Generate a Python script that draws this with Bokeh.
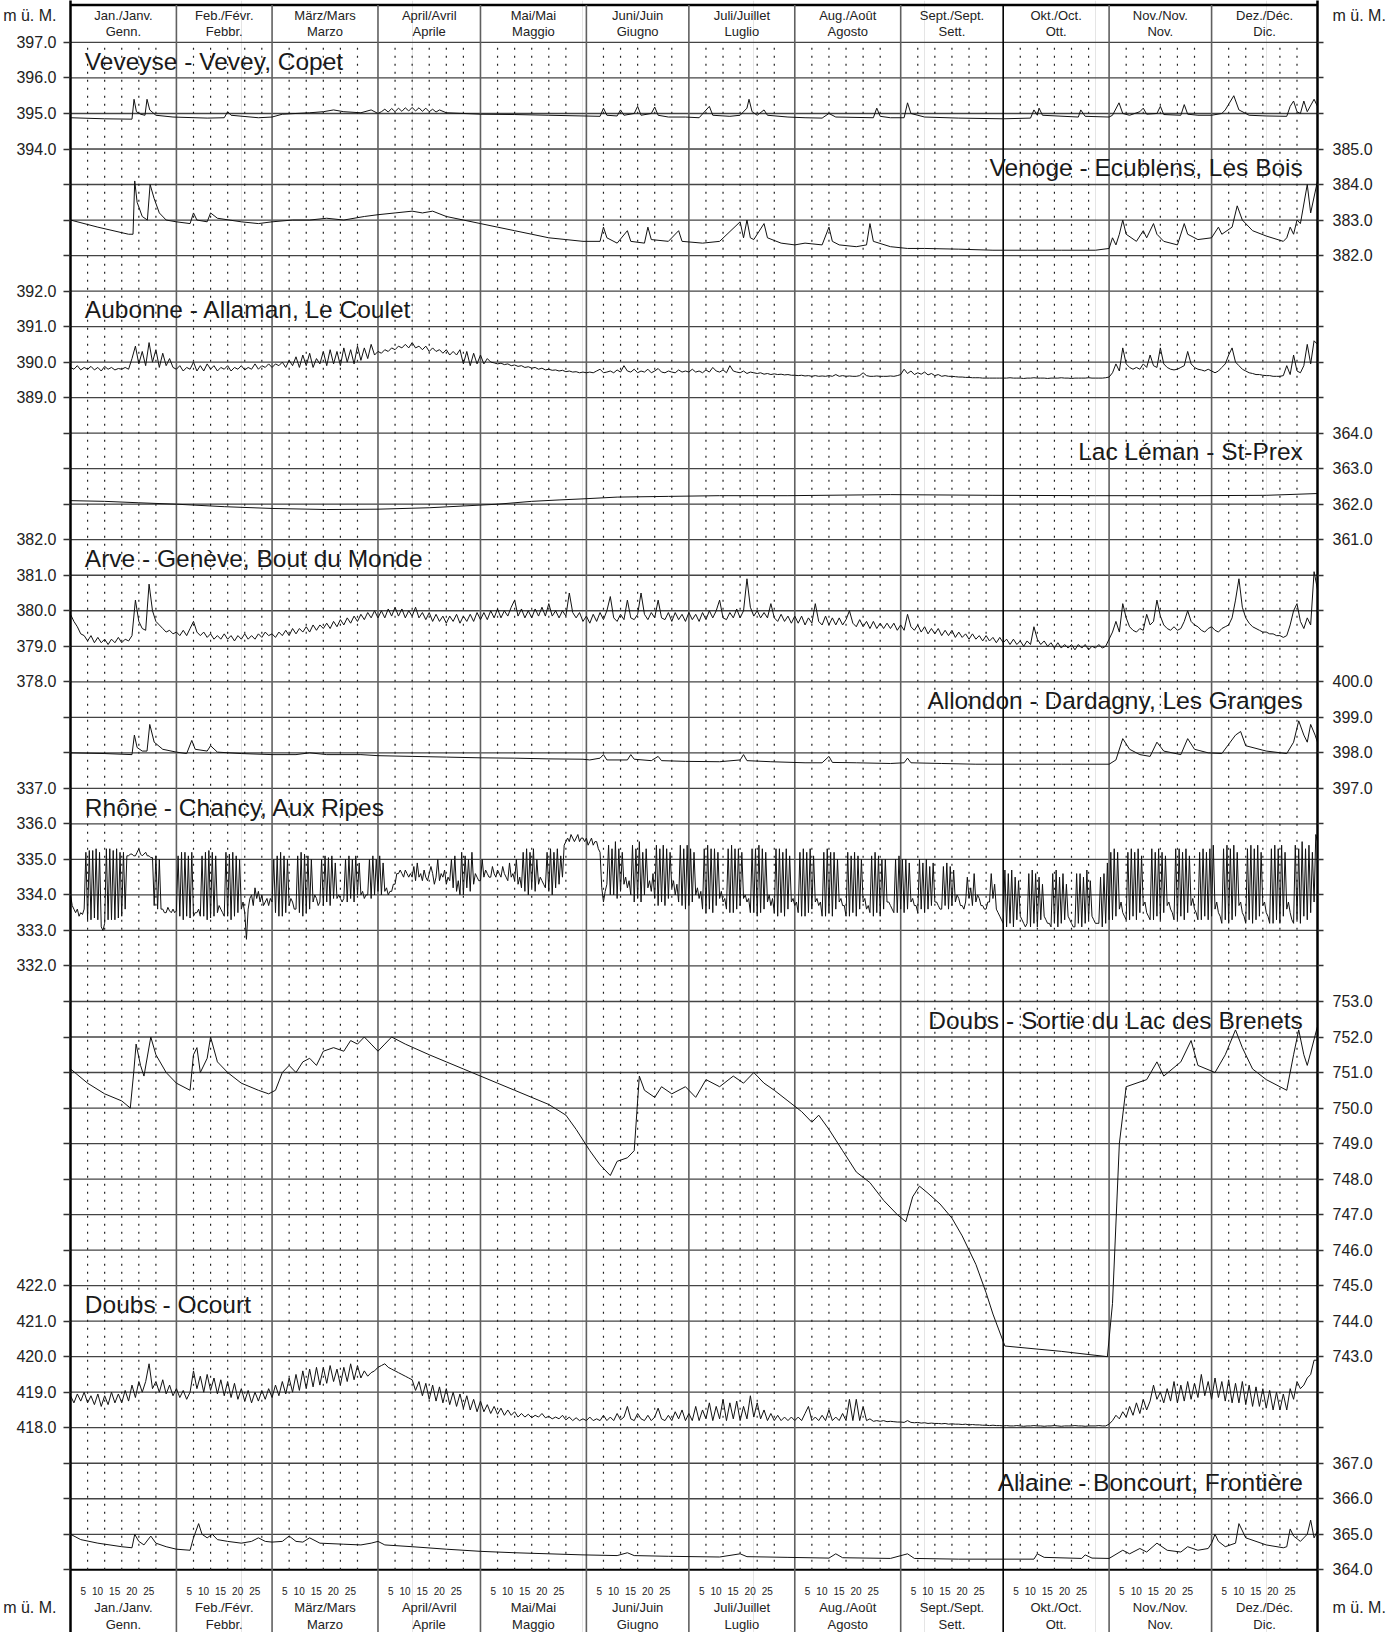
from bokeh.plotting import figure
from bokeh.models import Range1d, LinearAxis, FixedTicker
from bokeh.core.properties import value
from bokeh.embed import file_html
from bokeh.resources import INLINE

FONT = "Liberation Sans"

# ---------------- calendar ----------------
month_start = [0, 31, 59, 90, 120, 151, 181, 212, 243, 273, 304, 334, 365]
month_line1 = ["Jan./Janv.", "Feb./Févr.", "März/Mars", "April/Avril", "Mai/Mai", "Juni/Juin",
               "Juli/Juillet", "Aug./Août", "Sept./Sept.", "Okt./Oct.", "Nov./Nov.", "Dez./Déc."]
month_line2 = ["Genn.", "Febbr.", "Marzo", "Aprile", "Maggio", "Giugno",
               "Luglio", "Agosto", "Sett.", "Ott.", "Nov.", "Dic."]
day_marks = [5, 10, 15, 20, 25]
unit_label = "m ü. M."

# ---------------- axis tick labels (m ü. M.) ----------------
veveyse_ticks = [397.0, 396.0, 395.0, 394.0]
venoge_ticks = [385.0, 384.0, 383.0, 382.0]
aubonne_ticks = [392.0, 391.0, 390.0, 389.0]
leman_ticks = [364.0, 363.0, 362.0, 361.0]
arve_ticks = [382.0, 381.0, 380.0, 379.0, 378.0]
allondon_ticks = [400.0, 399.0, 398.0, 397.0]
rhone_ticks = [337.0, 336.0, 335.0, 334.0, 333.0, 332.0]
brenets_ticks = [753.0, 752.0, 751.0, 750.0, 749.0, 748.0, 747.0, 746.0, 745.0, 744.0, 743.0]
ocourt_ticks = [422.0, 421.0, 420.0, 419.0, 418.0]
allaine_ticks = [367.0, 366.0, 365.0, 364.0]

# ---------------- series: (day of year, water level m ü. M.) ----------------
veveyse = [(0,394.88),(10,394.85),(18,394.84),(18.6,395.4),(19.3,395.05),(20.5,394.98),(21.8,394.95),(22.4,395.4),(23.2,395.1),(25,394.95),
 (30,394.9),(40,394.87),(45,394.88),(46,395.05),(47,394.95),(55,394.88),(59,394.9),(62,394.98),(66,395.0),(70,395.02),
 (74,395.05),(77,395.1),(80,395.05),(85,395.02),(88,395.1),(90,395.0),(91,395.05),(92,395.12),(93,395.04),(94,395.14),
 (95,395.05),(96,395.15),(97,395.06),(98,395.16),(99,395.07),(100,395.17),(101,395.07),(102,395.16),(103,395.06),(104,395.15),
 (105,395.05),(106,395.12),(107,395.04),(108,395.1),(110,395.02),(115,395.0),(120,394.98),(130,394.97),(140,394.95),(150,394.93),
 (155,394.92),(156,395.15),(157,394.95),(160,394.93),(161,395.1),(162,394.95),(165,395.0),(166,395.2),(167,394.95),(170,395.0),
 (171,395.18),(172,394.95),(175,394.9),(180,394.9),(184,394.88),(187,395.2),(188,394.95),(193,394.92),(196,394.95),(198,395.15),
 (198.6,395.4),(199.5,395.05),(201,394.95),(203,395.1),(204,394.95),(210,394.9),(215,394.88),(220,394.87),(222,395.0),(224,394.9),
 (235,394.88),(236,395.15),(237,394.92),(240,394.88),(244,394.88),(245,395.3),(246,395.0),(250,394.9),(260,394.87),(273,394.85),
 (281,394.87),(282,395.1),(283,394.95),(283.5,395.15),(284.5,394.95),(295,394.9),(295.7,395.1),(297,394.92),(304,394.9),(305,394.95),
 (306.9,395.3),(308,395.0),(310,394.95),(313,395.05),(314,395.15),(315,394.98),(318,395.0),(319,395.2),(320,394.97),(325,394.95),
 (326,395.25),(327,394.98),(330,394.95),(334,394.95),(337,395.0),(338,395.1),(340.5,395.5),(342,395.1),(345,394.95),(350,394.93),
 (356,394.92),(357,395.2),(358,395.35),(359,395.05),(360,395.0),(361,395.35),(362,395.05),(364,395.4),(365,395.2)]

venoge = [(0,383.0),(8,382.8),(17,382.6),(18.3,382.6),(18.8,384.1),(19.5,383.5),(21,383.1),(22.5,383.0),(23.3,384.0),(24.5,383.6),
 (26,383.2),(28,383.0),(31,382.95),(35,382.9),(36,383.2),(37,383.0),(40,382.95),(41,383.2),(43,383.05),(50,382.95),
 (55,382.9),(59,382.95),(65,383.0),(70,383.0),(75,383.05),(80,383.0),(86,383.1),(90,383.15),(95,383.2),(100,383.25),
 (103,383.2),(106,383.25),(110,383.1),(115,383.0),(120,382.9),(125,382.8),(130,382.7),(135,382.6),(140,382.5),(145,382.45),
 (150,382.4),(155,382.4),(156,382.8),(157,382.5),(160,382.35),(163,382.7),(164,382.4),(168,382.35),(169,382.8),(170,382.45),
 (175,382.4),(178,382.7),(179,382.4),(185,382.35),(190,382.4),(196,382.95),(197,382.5),(198,383.0),(199,382.5),(200,382.45),
 (203,382.9),(204,382.5),(208,382.35),(212,382.3),(215,382.35),(220,382.3),(222,382.8),(223,382.4),(225,382.3),(230,382.25),
 (233,382.3),(234,382.9),(235,382.4),(240,382.25),(245,382.2),(250,382.2),(260,382.18),(270,382.15),(280,382.15),(290,382.15),
 (300,382.15),(304,382.2),(305,382.5),(306,382.3),(307,382.6),(308,383.0),(309,382.6),(312,382.4),(314,382.7),(315,382.5),
 (317,382.9),(318,382.6),(320,382.4),(324,382.3),(326,382.9),(327,382.6),(330,382.45),(334,382.5),(336,382.8),(337,382.6),
 (340,382.8),(341.5,383.4),(343,383.0),(346,382.7),(350,382.55),(355,382.4),(356,382.5),(357,382.8),(358,382.6),(359,383.0),
 (360,382.9),(362,384.0),(363,383.2),(365,384.1)]

# daily readings, starting 1 January
aubonne_step = 1.0
aubonne_val = [
 389.85,389.8,389.9,389.78,389.85,389.8,389.88,389.78,389.85,389.75,389.88,389.8,389.85,389.78,389.82,389.8,389.85,389.8,390.1,390.45,389.95,390.3,389.9,390.55,390.0,390.35,389.85,390.25,389.9,390.1,389.85,
 389.8,389.9,389.75,389.85,389.8,390.0,389.75,389.9,389.75,389.95,389.8,389.9,389.75,389.85,389.8,389.9,389.75,389.85,389.8,389.9,389.78,389.85,389.8,389.95,389.8,389.9,389.85,389.95,
 389.85,389.95,389.9,390.0,389.85,390.05,389.9,390.15,389.85,390.2,389.9,390.25,389.85,390.1,389.95,390.3,389.9,390.35,389.95,390.3,389.9,390.4,390.0,390.35,389.95,390.45,390.05,390.4,390.1,390.5,390.2,
 390.3,390.25,390.35,390.3,390.4,390.35,390.45,390.4,390.5,390.4,390.55,390.4,390.45,390.35,390.45,390.3,390.4,390.3,390.35,390.25,390.35,390.2,390.3,390.2,390.35,389.95,390.3,389.9,390.25,389.95,
 390.2,389.95,390.1,390.0,389.98,389.95,389.97,389.93,389.95,389.9,389.92,389.88,389.9,389.85,389.87,389.83,389.85,389.8,389.83,389.78,389.8,389.77,389.78,389.75,389.77,389.73,389.75,389.72,389.73,389.7,389.72,
 389.7,389.72,389.7,389.75,389.8,389.7,389.72,389.75,389.7,389.78,389.72,389.9,389.75,389.72,389.8,389.7,389.75,389.72,389.8,389.7,389.75,389.82,389.72,389.7,389.75,389.72,389.7,389.78,389.72,389.75,
 389.72,389.8,389.72,389.75,389.7,389.78,389.72,389.85,389.75,389.72,389.78,389.7,389.9,389.75,389.72,389.7,389.75,389.68,389.72,389.7,389.68,389.7,389.66,389.68,389.65,389.67,389.65,389.66,389.64,389.65,389.63,
 389.63,389.62,389.63,389.61,389.62,389.6,389.62,389.6,389.61,389.6,389.62,389.6,389.65,389.6,389.62,389.6,389.61,389.6,389.6,389.62,389.7,389.62,389.6,389.6,389.61,389.6,389.6,389.6,389.61,389.6,389.62,
 389.65,389.8,389.68,389.75,389.65,389.7,389.66,389.72,389.64,389.68,389.62,389.65,389.6,389.62,389.6,389.6,389.59,389.58,389.58,389.57,389.57,389.56,389.56,389.56,389.55,389.55,389.55,389.55,389.55,389.55,
 389.55,389.55,389.56,389.55,389.55,389.55,389.54,389.55,389.55,389.56,389.55,389.55,389.55,389.54,389.55,389.55,389.55,389.56,389.55,389.55,389.54,389.55,389.55,389.55,389.55,389.56,389.55,389.55,389.55,389.55,389.56,
 389.58,389.7,389.95,389.75,390.4,389.95,389.85,389.8,389.85,389.8,389.95,389.85,390.2,389.9,389.85,390.4,389.95,389.85,389.8,389.78,389.8,389.85,389.9,390.3,389.95,389.85,389.8,389.78,389.75,389.8,
 389.75,389.7,389.75,389.85,389.95,390.2,390.4,390.0,389.9,389.8,389.75,389.7,389.68,389.65,389.65,389.63,389.62,389.62,389.6,389.6,389.6,389.62,389.9,389.65,390.2,389.75,389.7,389.9,390.5,389.95,390.6,390.5]

leman = [(0,362.1),(10,362.08),(20,362.04),(31,362.0),(45,361.93),(59,361.88),(75,361.85),(90,361.86),(105,361.9),(115,361.95),
 (125,362.0),(135,362.08),(143,362.12),(150,362.15),(160,362.2),(175,362.22),(190,362.24),(210,362.24),(240,362.27),(270,362.25),
 (300,362.24),(330,362.24),(350,362.25),(365,362.3)]

# daily readings, starting 1 January
arve_step = 1.0
arve_val = [
 379.9,379.7,379.55,379.35,379.3,379.15,379.3,379.1,379.25,379.1,379.2,379.05,379.2,379.1,379.25,379.1,379.2,379.15,379.3,380.3,379.7,379.5,379.45,380.75,380.0,379.7,379.6,379.5,379.4,379.45,379.35,
 379.4,379.3,379.45,379.3,379.5,379.7,379.4,379.3,379.4,379.25,379.35,379.2,379.3,379.2,379.35,379.2,379.3,379.15,379.3,379.2,379.35,379.2,379.3,379.2,379.35,379.25,379.4,379.3,
 379.35,379.25,379.4,379.3,379.45,379.3,379.5,379.35,379.5,379.4,379.55,379.4,379.6,379.45,379.6,379.5,379.65,379.5,379.7,379.55,379.75,379.6,379.8,379.65,379.85,379.7,379.9,379.75,379.95,379.8,380.0,
 379.8,380.0,379.8,380.05,379.85,380.1,379.85,380.05,379.8,380.0,379.85,380.1,379.8,379.95,379.75,379.95,379.7,379.9,379.7,379.85,379.65,379.85,379.7,379.9,379.65,379.85,379.7,379.9,379.7,379.95,
 379.75,379.95,379.75,380.0,379.8,380.05,379.8,380.0,379.85,380.1,380.3,379.85,380.05,379.8,380.0,379.8,380.05,379.85,380.1,379.85,380.2,379.85,380.0,379.8,380.0,379.85,380.5,379.95,379.8,379.95,379.7,
 379.85,379.65,379.9,379.7,379.95,379.75,380.0,380.4,379.8,379.7,379.9,379.75,380.3,379.8,379.75,379.9,380.5,379.9,379.75,379.95,379.8,380.3,379.8,379.75,379.95,379.7,379.95,379.75,379.9,379.7,
 379.95,379.75,379.9,379.7,379.95,379.75,380.0,379.8,380.0,380.3,379.8,379.75,379.95,379.8,380.05,379.8,380.0,380.9,380.1,379.85,380.0,379.8,379.95,379.8,380.2,379.8,379.7,379.9,379.7,379.85,379.65,
 379.85,379.65,379.85,379.6,379.8,379.65,380.2,379.7,379.6,379.85,379.6,379.8,379.6,379.8,379.6,379.75,380.0,379.65,379.55,379.75,379.55,379.7,379.5,379.7,379.5,379.65,379.5,379.65,379.5,379.65,379.45,
 379.6,379.45,379.9,379.55,379.45,379.6,379.4,379.55,379.35,379.5,379.35,379.5,379.3,379.45,379.3,379.45,379.25,379.4,379.25,379.35,379.2,379.35,379.2,379.3,379.15,379.3,379.15,379.25,379.1,379.25,
 379.1,379.2,379.05,379.2,379.05,379.15,379.0,379.15,379.05,379.55,379.2,379.05,379.15,379.0,379.1,378.95,379.1,378.95,379.05,378.95,379.05,378.9,379.05,378.95,379.05,378.9,379.0,378.95,379.05,378.95,379.0,
 379.2,379.4,379.7,379.4,380.2,379.8,379.55,379.45,379.4,379.5,379.45,379.9,379.6,379.7,380.3,379.85,379.6,379.5,379.45,379.55,379.45,379.5,379.7,380.0,379.7,379.6,379.55,379.45,379.4,379.5,
 379.55,379.45,379.4,379.5,379.55,379.6,379.8,380.3,380.9,380.1,379.8,379.65,379.55,379.5,379.45,379.4,379.4,379.35,379.35,379.3,379.3,379.25,379.3,379.6,380.0,380.2,379.7,379.5,379.8,379.6,381.1,380.6]

allondon = [(0,398.0),(10,397.98),(18,397.95),(18.7,398.5),(19.5,398.15),(21,398.05),(22.4,398.05),(23.2,398.8),(24.5,398.3),(27,398.1),
 (31,398.02),(34,397.98),(35.5,398.35),(36.5,398.1),(40,398.05),(41,398.2),(43,398.02),(50,397.98),(59,397.95),(66,397.95),
 (70,398.0),(75,397.95),(85,397.95),(90,397.92),(100,397.9),(110,397.88),(120,397.86),(130,397.85),(140,397.83),(150,397.82),
 (152,397.8),(155,397.85),(156,397.95),(157,397.8),(163,397.8),(164,397.95),(165,397.82),(170,397.78),(172,397.9),(173,397.78),
 (180,397.76),(190,397.75),(196,397.8),(197,397.95),(198,397.78),(205,397.75),(215,397.72),(220,397.72),(222,397.9),(223,397.73),
 (230,397.72),(240,397.7),(244,397.72),(245,397.85),(246,397.72),(255,397.7),(265,397.68),(273,397.68),(290,397.68),(304,397.68),
 (306,397.8),(308,398.4),(310,398.1),(313,397.95),(316,397.9),(318,398.3),(320,398.05),(325,397.95),(327,398.4),(329,398.1),
 (333,398.0),(337,397.98),(341,398.5),(342.5,398.6),(344,398.2),(350,398.05),(356,397.98),(358,398.3),(359.5,398.9),(361,398.5),
 (362,398.3),(363,398.8),(364.3,398.5),(365,398.3)]

# Rhône - Chancy: one reading every half day, starting 1 January
rhone_step = 0.5
rhone_val = [
 334.0,333.7, 333.6,333.5, 333.6,333.4, 333.5,333.45, 333.6,335.2, 333.3,335.25, 333.3,335.25, 333.35,335.3, 333.3,335.2, 333.1,333.0,
 333.2,335.3, 333.3,335.3, 333.3,335.25, 333.3,335.3, 333.35,335.2, 333.4,335.2, 333.6,335.1, 335.1,335.15, 335.15,335.1, 335.1,335.2,
 335.3,335.15, 335.1,335.15, 335.2,335.1, 335.1,335.05, 335.05,333.7, 335.1,333.6, 335.0,333.6, 333.6,333.5, 333.5,333.65, 333.55,333.5,
 333.6,333.5, 333.55,335.1, 333.4,335.2, 333.3,335.2, 333.4,335.1, 333.35,335.2, 333.4,333.5, 333.5,333.6, 333.4,335.1, 333.4,335.2,
 333.3,335.25, 333.35,335.2, 333.4,335.1, 333.5,333.7, 333.6,333.5, 333.4,335.2, 333.4,335.15, 333.3,335.2, 333.4,335.1, 333.5,335.0,
 333.6,333.8, 333.5,332.75, 333.6,333.9, 334.0,333.7, 334.2,333.9, 334.1,333.8, 334.0,333.7, 333.8,333.9, 333.7,333.9, 333.8,335.0,
 333.5,335.1, 333.4,335.2, 333.4,335.1, 333.5,335.0, 333.7,333.9, 333.8,333.6, 333.6,335.1, 333.5,335.2, 333.4,335.15, 333.5,335.1,
 333.6,335.0, 333.8,334.0, 333.9,333.7, 333.8,335.0, 333.7,335.1, 333.8,335.05, 333.7,335.1, 333.9,334.9, 333.9,334.0, 333.9,333.8,
 333.9,335.0, 333.8,335.1, 333.9,335.0, 333.8,335.1, 334.0,334.9, 334.0,334.1, 333.9,334.0, 334.0,335.0, 333.9,335.1, 334.0,335.0,
 334.1,335.1, 334.0,334.9, 334.1,334.2, 334.0,334.1, 334.1,334.3, 334.3,334.6, 334.6,334.7, 334.6,334.5, 334.7,334.6, 334.5,334.6,
 334.5,334.8, 334.4,334.9, 334.5,334.6, 334.4,334.7, 334.5,334.4, 334.6,334.8, 334.6,334.3, 334.5,335.0, 334.4,334.6, 334.5,334.7,
 334.3,334.5, 334.4,335.0, 334.2,335.1, 334.1,334.4, 334.0,335.2, 334.0,335.1, 334.2,335.0, 334.1,335.2, 334.3,334.6, 334.5,334.4,
 334.4,335.0, 334.5,334.7, 334.6,334.5, 334.5,334.8, 334.6,334.5, 334.7,334.6, 334.5,334.8, 334.6,334.5, 334.4,334.9, 334.5,334.6,
 334.4,335.0, 334.3,334.5, 334.2,335.2, 334.1,335.3, 334.0,335.2, 334.2,335.3, 334.1,335.0, 334.3,334.5, 334.4,334.3, 334.2,335.2,
 334.1,335.3, 334.0,335.2, 334.2,335.3, 334.3,335.1, 334.5,335.4, 335.5,335.6, 335.5,335.7, 335.6,335.5, 335.6,335.7, 335.5,335.6,
 335.6,335.5, 335.6,335.4, 335.5,335.6, 335.4,335.5, 335.5,335.3, 335.2,334.2, 333.8,334.1, 334.3,335.4, 334.0,335.3, 334.0,335.5,
 333.9,335.3, 334.1,335.2, 334.3,334.5, 334.2,334.4, 334.0,335.4, 333.8,335.3, 333.9,335.5, 333.8,335.2, 334.0,335.3, 334.2,334.4,
 334.1,334.6, 333.9,335.4, 333.7,335.3, 333.8,335.4, 333.7,335.3, 333.9,335.2, 334.2,334.4, 334.0,334.3, 333.8,335.4, 333.7,335.3,
 333.6,335.4, 333.7,335.3, 333.8,335.2, 334.0,334.2, 333.9,334.1, 333.6,335.3, 333.5,335.4, 333.6,335.3, 333.5,335.3, 333.7,335.2,
 333.9,334.1, 333.8,333.9, 333.6,335.3, 333.5,335.4, 333.5,335.3, 333.6,335.3, 333.7,335.2, 333.9,334.0, 333.8,333.9, 333.5,335.3,
 333.5,335.3, 333.4,335.4, 333.5,335.3, 333.6,335.2, 333.8,334.0, 333.7,333.9, 333.5,335.3, 333.4,335.3, 333.5,335.2, 333.4,335.3,
 333.6,335.1, 333.8,333.9, 333.7,333.8, 333.5,335.2, 333.4,335.3, 333.4,335.2, 333.5,335.3, 333.6,335.1, 333.8,333.9, 333.7,333.8,
 333.4,335.2, 333.4,335.3, 333.5,335.2, 333.4,335.2, 333.6,335.0, 333.8,333.9, 333.7,333.7, 333.4,335.2, 333.4,335.1, 333.5,335.2,
 333.4,335.1, 333.6,335.0, 333.8,333.9, 333.6,333.7, 333.5,335.1, 333.4,335.2, 333.5,335.1, 333.4,335.0, 333.6,335.0, 333.8,333.8,
 333.7,333.6, 333.5,335.0, 333.5,335.1, 333.6,335.0, 333.5,335.0, 333.6,334.9, 333.8,333.9, 333.7,333.7, 333.5,335.0, 333.6,334.9,
 333.5,335.0, 333.6,334.8, 333.7,334.9, 333.8,333.8, 333.7,333.6, 333.6,334.8, 333.7,334.9, 333.6,334.8, 333.7,334.7, 333.8,334.0,
 333.9,333.7, 333.7,333.6, 333.8,334.5, 333.9,334.2, 333.7,334.6, 333.8,334.0, 333.9,333.7, 333.7,333.6, 333.6,333.8, 333.8,334.6,
 333.9,334.3, 333.6,333.5, 333.4,333.3, 333.2,334.7, 333.1,334.6, 333.2,334.7, 333.1,334.5, 333.3,334.4, 333.4,333.3, 333.2,333.1,
 333.2,334.6, 333.1,334.7, 333.2,334.6, 333.1,334.5, 333.3,334.3, 333.4,333.3, 333.2,333.2, 333.1,334.6, 333.2,334.7, 333.1,334.5,
 333.2,334.6, 333.3,334.3, 333.4,333.3, 333.2,333.1, 333.1,334.6, 333.2,334.6, 333.1,334.5, 333.2,334.7, 333.3,334.4, 333.4,333.3,
 333.2,333.2, 333.2,334.5, 333.1,334.6, 333.2,334.9, 333.3,335.2, 333.3,335.3, 333.4,335.2, 333.6,333.8, 333.5,333.4, 333.3,335.2,
 333.3,335.3, 333.4,335.2, 333.3,335.3, 333.5,335.1, 333.7,333.8, 333.5,333.4, 333.3,335.3, 333.3,335.2, 333.4,335.3, 333.3,335.2,
 333.5,335.1, 333.7,333.8, 333.6,333.5, 333.3,335.3, 333.3,335.3, 333.4,335.2, 333.3,335.3, 333.5,335.1, 333.7,333.9, 333.6,333.5,
 333.3,335.2, 333.3,335.3, 333.4,335.2, 333.3,335.3, 333.4,335.4, 333.6,333.8, 333.5,333.4, 333.2,335.3, 333.3,335.4, 333.2,335.3,
 333.3,335.4, 333.4,335.2, 333.7,333.8, 333.5,333.4, 333.2,335.3, 333.3,335.4, 333.2,335.3, 333.3,335.4, 333.4,335.2, 333.7,333.8,
 333.5,333.4, 333.2,335.3, 333.2,335.4, 333.3,335.3, 333.2,335.4, 333.4,335.2, 333.6,333.8, 333.5,333.3, 333.2,335.4, 333.3,335.3,
 333.2,335.5, 333.4,335.3, 333.3,335.4, 333.5,335.2, 333.8,335.7, 335.5]

brenets = [(0,751.1),(5,750.7),(10,750.4),(15,750.2),(17.5,750.0),(18.5,751.0),(19.2,751.8),(20.5,751.2),(21.5,750.9),(23.5,752.0),
 (25,751.5),(28,751.0),(31,750.7),(35,750.5),(36,751.5),(37,751.7),(38,751.0),(40,751.4),(41,752.0),(43,751.3),
 (46,751.0),(50,750.7),(55,750.5),(58,750.4),(60,750.5),(62,751.0),(64,751.2),(66,751.0),(68,751.3),(70,751.4),
 (72,751.2),(74,751.6),(77,751.7),(80,751.6),(82,751.9),(84,751.8),(86,752.0),(88,751.8),(90,751.6),(92,751.8),
 (94,752.0),(98,751.8),(105,751.5),(110,751.3),(115,751.1),(120,750.9),(125,750.7),(130,750.5),(135,750.3),(140,750.1),
 (145,749.8),(148,749.4),(152,748.8),(155,748.4),(158,748.1),(160,748.5),(163,748.6),(165,748.8),(166.5,750.9),(168,750.5),
 (171,750.3),(173,750.6),(176,750.4),(180,750.6),(183,750.3),(186,750.8),(190,750.6),(194,750.9),(197,750.7),(200,751.0),
 (203,750.7),(206,750.5),(210,750.2),(214,749.9),(217,749.6),(219,749.8),(222,749.4),(226,748.8),(230,748.2),(234,747.9),
 (238,747.4),(242,747.0),(244.5,746.8),(246.5,747.5),(248.5,747.8),(251,747.6),(254.5,747.3),(258,746.9),(261,746.4),(265,745.6),
 (268,744.8),(270,744.2),(273.5,743.3),(290,743.15),(303.5,743.0),(305,744.5),(307,749.0),(309,750.6),(315,750.8),(318,751.3),
 (320,750.9),(325,751.3),(328,751.9),(330,751.2),(335,751.0),(338,751.5),(341,752.2),(343,751.7),(346,751.1),(350,750.8),
 (354,750.6),(356,750.5),(358,751.5),(359.5,752.2),(361,751.5),(362,751.2),(365,752.3)]

# daily readings, starting 1 January
ocourt_step = 1.0
ocourt_val = [
 418.9,418.7,418.95,418.75,419.0,418.7,418.9,418.65,418.95,418.6,418.9,418.65,419.0,418.7,418.95,418.7,419.05,418.75,419.2,418.85,419.3,419.0,419.3,419.8,419.1,419.3,419.0,419.35,418.95,419.2,418.9,
 419.1,418.85,419.05,418.8,419.0,419.6,419.1,419.45,419.0,419.5,419.05,419.4,418.95,419.35,418.9,419.3,418.85,419.25,418.8,419.1,418.75,419.05,418.7,419.0,418.75,419.05,418.8,419.1,
 418.85,419.2,418.9,419.3,418.95,419.4,419.0,419.5,419.05,419.6,419.1,419.65,419.15,419.7,419.2,419.7,419.25,419.75,419.3,419.65,419.2,419.7,419.3,419.8,419.35,419.75,419.4,419.6,419.45,419.55,419.6,
 419.7,419.75,419.8,419.7,419.65,419.6,419.55,419.5,419.45,419.4,419.35,419.05,419.3,418.9,419.25,418.8,419.2,418.75,419.15,418.7,419.1,418.65,419.0,418.6,418.95,418.55,418.9,418.5,418.8,418.45,
 418.75,418.45,418.65,418.4,418.6,418.38,418.55,418.35,418.5,418.35,418.45,418.3,418.4,418.3,418.38,418.28,418.35,418.3,418.4,418.28,418.32,418.25,418.3,418.25,418.35,418.22,418.3,418.2,418.28,418.2,418.25,
 418.2,418.3,418.2,418.25,418.2,418.35,418.2,418.3,418.2,418.4,418.22,418.3,418.6,418.25,418.2,418.4,418.25,418.2,418.35,418.2,418.3,418.55,418.25,418.2,418.35,418.2,418.45,418.25,418.5,418.2,
 418.4,418.2,418.6,418.2,418.5,418.25,418.7,418.2,418.6,418.25,418.8,418.2,418.7,418.25,418.75,418.2,418.6,418.25,418.9,418.3,418.7,418.25,418.5,418.2,418.4,418.2,418.35,418.2,418.3,418.2,418.3,
 418.2,418.3,418.2,418.4,418.6,418.2,418.3,418.2,418.35,418.2,418.5,418.2,418.3,418.2,418.4,418.2,418.8,418.2,418.8,418.2,418.6,418.2,418.25,418.18,418.2,418.18,418.2,418.17,418.18,418.17,418.16,
 418.16,418.15,418.2,418.15,418.14,418.15,418.13,418.14,418.12,418.13,418.12,418.12,418.11,418.12,418.1,418.11,418.1,418.1,418.09,418.1,418.08,418.09,418.08,418.08,418.07,418.07,418.06,418.07,418.06,418.06,
 418.05,418.06,418.05,418.05,418.06,418.05,418.04,418.05,418.05,418.06,418.05,418.05,418.04,418.05,418.05,418.06,418.05,418.04,418.05,418.05,418.05,418.06,418.05,418.05,418.04,418.05,418.05,418.05,418.06,418.05,418.05,
 418.1,418.2,418.35,418.25,418.45,418.3,418.6,418.35,418.7,418.4,418.8,418.5,418.75,419.2,418.8,419.0,418.7,419.1,418.75,419.3,418.7,419.2,418.75,419.3,418.8,419.25,418.85,419.5,418.9,419.3,
 418.8,419.4,418.85,419.3,418.75,419.35,418.7,419.25,418.7,419.3,418.65,419.2,418.6,419.15,418.6,419.1,418.55,419.05,418.5,419.0,418.5,418.95,418.5,419.1,418.8,419.3,419.1,419.2,419.4,419.5,419.9,419.9]

allaine = [(0,365.0),(3,364.85),(8,364.75),(15,364.65),(18,364.62),(18.8,365.0),(20,364.8),(21.5,364.7),(23.5,364.95),(25,364.75),
 (28,364.65),(31,364.58),(35,364.55),(36,364.9),(37.5,365.3),(38.5,365.0),(40,364.9),(41.5,365.0),(43,364.85),(46,364.8),
 (50,364.75),(53,364.8),(55,364.9),(57,364.8),(59,364.78),(62,364.8),(64,364.95),(66,364.8),(68,364.78),(70,364.9),
 (73,364.75),(80,364.72),(85,364.7),(88,364.75),(90,364.8),(92,364.7),(100,364.65),(110,364.58),(120,364.52),(130,364.48),
 (140,364.45),(150,364.42),(160,364.4),(163,364.48),(165,364.4),(175,364.38),(190,364.36),(196,364.45),(198,364.37),(210,364.35),
 (222,364.33),(224,364.45),(226,364.34),(240,364.32),(245,364.45),(247,364.32),(260,364.3),(273,364.3),(282,364.3),(283,364.45),
 (285,364.35),(296,364.32),(297,364.42),(299,364.33),(304,364.32),(308,364.55),(310,364.45),(313,364.6),(315,364.5),(318,364.75),
 (321,364.55),(325,364.5),(327,364.65),(330,364.55),(333,364.6),(334,364.75),(335,365.0),(336,364.8),(338,364.65),(341,364.75),
 (342,365.3),(344,364.9),(350,364.7),(355,364.62),(356,364.65),(357,365.15),(358,364.95),(360,364.8),(362,365.0),(363,365.4),
 (364,364.9),(365,365.1)]


def regular(vals, step):
    return [(i * step, v) for i, v in enumerate(vals)]


# ---------------- layout of the stacked panels ----------------
N_ROWS = 43                      # grid rows between top and bottom line
ROW_PX = 35.52                   # height of one grid row in px
BOTTOM_PX = 1569.3               # page y of the bottom grid line
FIG_W, FIG_H = 1390, 1632
Y1 = BOTTOM_PX / ROW_PX
Y0 = (BOTTOM_PX - FIG_H) / ROW_PX

stations = [
    dict(key="veveyse", title="Veveyse - Vevey, Copet", pts=veveyse, ticks=veveyse_ticks, side="left", top_row=43),
    dict(key="venoge", title="Venoge - Ecublens, Les Bois", pts=venoge, ticks=venoge_ticks, side="right", top_row=40),
    dict(key="aubonne", title="Aubonne - Allaman, Le Coulet", pts=regular(aubonne_val, aubonne_step),
         ticks=aubonne_ticks, side="left", top_row=36),
    dict(key="leman", title="Lac Léman - St-Prex", pts=leman, ticks=leman_ticks, side="right", top_row=32),
    dict(key="arve", title="Arve - Genève, Bout du Monde", pts=regular(arve_val, arve_step),
         ticks=arve_ticks, side="left", top_row=29),
    dict(key="allondon", title="Allondon - Dardagny, Les Granges", pts=allondon, ticks=allondon_ticks, side="right", top_row=25),
    dict(key="rhone", title="Rhône - Chancy, Aux Ripes", pts=regular(rhone_val, rhone_step),
         ticks=rhone_ticks, side="left", top_row=22),
    dict(key="brenets", title="Doubs - Sortie du Lac des Brenets", pts=brenets, ticks=brenets_ticks, side="right", top_row=16),
    dict(key="ocourt", title="Doubs - Ocourt", pts=regular(ocourt_val, ocourt_step),
         ticks=ocourt_ticks, side="left", top_row=8),
    dict(key="allaine", title="Allaine - Boncourt, Frontière", pts=allaine, ticks=allaine_ticks, side="right", top_row=3),
]

p = figure(frame_width=1247, frame_height=FIG_H,
           x_range=Range1d(0, 365), y_range=Range1d(Y0, Y1),
           min_border_left=69, min_border_right=FIG_W - 69 - 1247, min_border_top=0, min_border_bottom=0,
           x_axis_location=None, y_axis_location=None,
           output_backend="svg", toolbar_location=None)
p.outline_line_color = None
p.background_fill_color = "white"
p.border_fill_color = "white"

HDR1, HDR2 = 43.757, 43.32
FTR_DAY, FTR1, FTR2 = -0.583, -1.053, -1.55
TOP_BORDER = (BOTTOM_PX - 4.5) / ROW_PX

# ---- horizontal grid lines ----
rows = list(range(N_ROWS + 1))
p.segment(x0=0, x1=365, y0=rows[1:], y1=rows[1:], line_color="#444444", line_width=1.3)
p.segment(x0=0, x1=365, y0=0, y1=0, line_color="black", line_width=2.0)
p.segment(x0=0, x1=365, y0=TOP_BORDER, y1=TOP_BORDER, line_color="black", line_width=2.5)

# ---- vertical lines: months (full height) and day marks (dotted) ----
inner_months = month_start[1:-1]
p.segment(x0=inner_months, x1=inner_months, y0=Y0, y1=TOP_BORDER,
          line_color=["black" if m == 273 else "#606060" for m in inner_months], line_width=1.6)
day_x = [s + d for s in month_start[:-1] for d in day_marks]
p.segment(x0=day_x, x1=day_x, y0=0, y1=N_ROWS, line_color="#222222", line_width=1.2, line_dash="2 6")

# ---- header / footer texts ----
mid = [(a + b) / 2 for a, b in zip(month_start[:-1], month_start[1:])]
hdr = dict(text_font=value(FONT), text_font_size="13px", text_align="center",
           text_baseline="middle", text_color="#222222")
p.text(x=mid, y=HDR1, text=month_line1, **hdr)
p.text(x=mid, y=HDR2, text=month_line2, **hdr)
p.text(x=mid, y=FTR1, text=month_line1, **hdr)
p.text(x=mid, y=FTR2, text=month_line2, **hdr)
p.text(x=day_x, y=FTR_DAY, text=[str(d) for s in month_start[:-1] for d in day_marks],
       x_offset=-1.5, text_font=value(FONT), text_font_size="10px", text_align="right",
       text_baseline="middle", text_color="#222222")

# ---- stations ----
left_labels, right_labels = {}, {}
for st in stations:
    off = st["ticks"][0] - st["top_row"]
    p.extra_y_ranges[st["key"]] = Range1d(Y0 + off, Y1 + off)
    lab = left_labels if st["side"] == "left" else right_labels
    for t in st["ticks"]:
        lab[int(round(t - off))] = f"{t:.1f}"
    xs = [d for d, v in st["pts"]]
    ys = [v for d, v in st["pts"]]
    p.line(xs, ys, y_range_name=st["key"], line_color="#111111", line_width=1.0)
    tx, align = (4.2, "left") if st["side"] == "left" else (360.7, "right")
    p.text(x=[tx], y=[st["ticks"][0] - 0.53], text=[st["title"]], y_range_name=st["key"],
           text_font=value(FONT), text_font_size="24.5px", text_align=align,
           text_baseline="middle", text_color="#1a1a1a")

for lab in (left_labels, right_labels):
    lab[HDR1] = unit_label
    lab[FTR1] = unit_label


def tick_axis(tick_out):
    ax = LinearAxis(ticker=FixedTicker(ticks=rows, minor_ticks=[]))
    ax.major_label_overrides = {r: "" for r in rows}
    ax.major_label_text_font_size = "1px"
    ax.major_label_standoff = 0
    ax.axis_line_color = "black"
    ax.axis_line_width = 2.5
    ax.major_tick_line_color = "#333333"
    ax.major_tick_line_width = 1.3
    ax.major_tick_in = 0
    ax.major_tick_out = tick_out
    ax.minor_tick_line_color = None
    return ax


def label_axis(labels, standoff):
    ax = LinearAxis(ticker=FixedTicker(ticks=sorted(labels), minor_ticks=[]))
    ax.major_label_overrides = dict(labels)
    ax.axis_line_color = None
    ax.major_tick_line_color = None
    ax.major_tick_in = 0
    ax.major_tick_out = 0
    ax.minor_tick_line_color = None
    ax.major_label_text_font = FONT
    ax.major_label_text_font_size = "16px"
    ax.major_label_text_color = "#222222"
    ax.major_label_standoff = standoff
    return ax


p.add_layout(tick_axis(7), "left")
p.add_layout(label_axis(left_labels, 7), "left")
p.add_layout(tick_axis(6), "right")
p.add_layout(label_axis(right_labels, 9), "right")

open("out.html", "w").write(file_html(p, INLINE))
